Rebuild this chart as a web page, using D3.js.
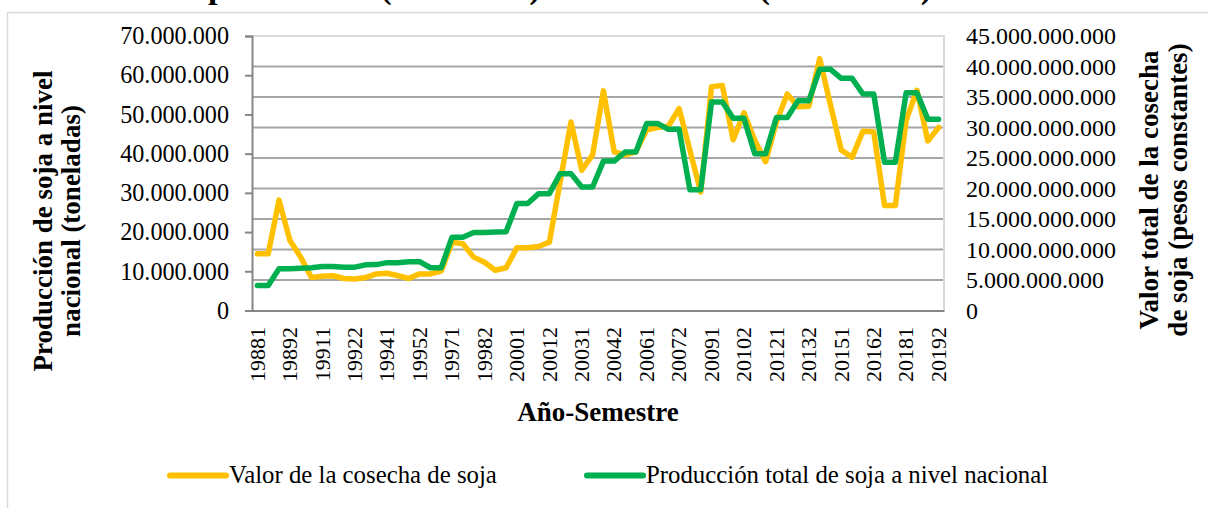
<!DOCTYPE html>
<html>
<head>
<meta charset="utf-8">
<script src="https://cdn.jsdelivr.net/npm/d3@7"></script>
<style>
  body { margin: 0; background: #fff; }
  svg { display: block; font-family: "Liberation Serif", "Times New Roman", serif; }
</style>
</head>
<body>
<div id="chart"></div>
<script>
// categorias año + semestre
const categorias = [
  "19881","19882","19891","19892","19901","19902","19911","19912",
  "19921","19922","19931","19932","19941","19942","19951","19952",
  "19961","19962","19971","19972","19981","19982","19991","19992",
  "20001","20002","20011","20012","20021","20022","20031","20032",
  "20041","20042","20051","20052","20061","20062","20071","20072",
  "20081","20082","20091","20092","20101","20102","20111","20112",
  "20121","20122","20131","20132","20141","20142","20151","20152",
  "20161","20162","20171","20172","20181","20182","20191","20192"
];
const etiquetasX = [
  "19881","19892","19911","19922","19941","19952","19971","19982",
  "20001","20012","20031","20042","20061","20072","20091","20102",
  "20121","20132","20151","20162","20181","20192"
];

// producción total (millones de toneladas) - eje izquierdo
const produccion = [
  6.4, 6.4, 10.65, 10.65, 10.8, 10.9, 11.2, 11.2,
  11.05, 11.05, 11.65, 11.7, 12.2, 12.2, 12.45, 12.45,
  10.9, 10.9, 18.7, 18.7, 19.9, 19.9, 20.0, 20.1,
  27.3, 27.3, 29.8, 29.8, 34.9, 34.9, 31.5, 31.5,
  38.1, 38.1, 40.4, 40.4, 47.7, 47.7, 46.2, 46.2,
  30.8, 30.8, 53.2, 53.2, 49.0, 49.0, 40.0, 40.0,
  49.2, 49.2, 53.5, 53.5, 61.5, 61.5, 59.2, 59.2,
  55.2, 55.2, 37.8, 37.8, 55.5, 55.5, 48.8, 48.8
];
// valor de la cosecha (miles de millones de pesos constantes) - eje derecho
const valor = [
  9.3, 9.3, 18.1, 11.5, 8.75, 5.4, 5.6, 5.7,
  5.25, 5.15, 5.4, 6.0, 6.1, 5.7, 5.25, 6.0,
  6.0, 6.45, 11.2, 10.95, 8.75, 7.9, 6.6, 7.0,
  10.3, 10.3, 10.5, 11.2, 21.1, 30.9, 23.0, 25.5,
  36.0, 26.0, 25.5, 26.0, 29.6, 30.0, 30.2, 33.1,
  26.3, 19.4, 36.7, 36.9, 28.0, 32.4, 27.9, 24.4,
  30.9, 35.5, 33.4, 33.5, 41.3, 33.7, 26.3, 25.1,
  29.4, 29.3, 17.2, 17.2, 31.2, 36.1, 27.8, 30.0
];

const ticksIzq = [0, 10, 20, 30, 40, 50, 60, 70];
const ticksDer = [0, 5, 10, 15, 20, 25, 30, 35, 40, 45];

const width = 1208;
const height = 508;
const margin = { top: 36, left: 252, right: 264, bottom: 197.5 };
const x0 = margin.left;
const x1 = width - margin.right;
const yTop = margin.top;
const yBot = height - margin.bottom;

const es = d3.formatLocale({ decimal: ",", thousands: ".", grouping: [3], currency: ["$", ""] });
const fmt = es.format(",d");

const svg = d3.select("#chart").append("svg")
  .attr("width", width)
  .attr("height", height);

// borde del área del gráfico
svg.append("rect")
  .attr("x", 7.5).attr("y", 12.5)
  .attr("width", 1230).attr("height", 530)
  .attr("fill", "none")
  .attr("stroke", "#d9d9d9")
  .attr("stroke-width", 1.5);

// titulo (queda cortado arriba, como en el original)
svg.append("text")
  .attr("x", 73).attr("y", -2)
  .attr("font-size", 34)
  .attr("font-weight", "bold")
  .text("Relación producción (toneladas) vs. Valor total (constantes)");

const x = d3.scaleBand().domain(categorias).range([x0, x1]);
const yIzq = d3.scaleLinear().domain([0, 70]).range([yBot, yTop]);
const yDer = d3.scaleLinear().domain([0, 45]).range([yBot, yTop]);
const cx = c => x(c) + x.bandwidth() / 2;

// lineas de cuadricula (eje derecho)
svg.append("g").selectAll("line")
  .data(ticksDer.slice(1, -1))
  .join("line")
  .attr("x1", x0).attr("x2", x1)
  .attr("y1", d => yDer(d)).attr("y2", d => yDer(d))
  .attr("stroke", "#a6a6a6")
  .attr("stroke-width", 2);

svg.append("path")
  .attr("d", `M${x0},${yTop}H${x1}V${yBot}`)
  .attr("fill", "none")
  .attr("stroke", "#d9d9d9")
  .attr("stroke-width", 2);

// eje izquierdo
const gIzq = svg.append("g")
  .attr("transform", `translate(${x0},0)`)
  .call(d3.axisLeft(yIzq).tickValues(ticksIzq).tickSize(7).tickPadding(16)
    .tickFormat(d => fmt(d * 1e6)));
gIzq.attr("font-family", null).attr("font-size", 24.2);
gIzq.select(".domain").attr("stroke", "#868686").attr("stroke-width", 2);
gIzq.selectAll(".tick line").attr("stroke", "#868686").attr("stroke-width", 2);
gIzq.selectAll(".tick text").attr("fill", "#000");

// eje derecho
const gDer = svg.append("g")
  .attr("transform", `translate(${x1},0)`)
  .call(d3.axisRight(yDer).tickValues(ticksDer).tickSize(0).tickPadding(22)
    .tickFormat(d => fmt(d * 1e9)));
gDer.attr("font-family", null).attr("font-size", 24);
gDer.select(".domain").remove();
gDer.selectAll(".tick text").attr("fill", "#000");

// eje x
const gX = svg.append("g")
  .attr("transform", `translate(0,${yBot})`)
  .call(d3.axisBottom(x).tickValues(etiquetasX).tickSize(0).tickSizeOuter(0));
gX.attr("font-family", null).attr("font-size", 22);
gX.select(".domain").attr("stroke", "#868686").attr("stroke-width", 2);
gX.selectAll(".tick text")
  .attr("fill", "#000")
  .attr("transform", "rotate(-90)")
  .attr("text-anchor", "end")
  .attr("x", -16.5)
  .attr("y", 0)
  .attr("dy", "0.33em");

// series
const linea = scale => d3.line()
  .x((d, i) => cx(categorias[i]))
  .y(d => scale(d));

svg.append("path")
  .datum(valor)
  .attr("d", linea(yDer))
  .attr("fill", "none")
  .attr("stroke", "#ffc000")
  .attr("stroke-width", 5.5)
  .attr("stroke-linejoin", "round")
  .attr("stroke-linecap", "round");

svg.append("path")
  .datum(produccion)
  .attr("d", linea(yIzq))
  .attr("fill", "none")
  .attr("stroke", "#00b050")
  .attr("stroke-width", 5.5)
  .attr("stroke-linejoin", "round")
  .attr("stroke-linecap", "round");

// titulos de ejes
svg.append("text")
  .attr("x", (x0 + x1) / 2).attr("y", 420.5)
  .attr("text-anchor", "middle")
  .attr("font-size", 27).attr("font-weight", "bold")
  .text("Año-Semestre");

const tIzq = svg.append("text")
  .attr("transform", "translate(51.5,221) rotate(-90)")
  .attr("text-anchor", "middle")
  .attr("font-size", 27).attr("font-weight", "bold");
tIzq.append("tspan").attr("x", 0).attr("y", 0).text("Producción de soja a nivel");
tIzq.append("tspan").attr("x", 0).attr("y", 28.4).text("nacional (toneladas)");

const tDer = svg.append("text")
  .attr("transform", "translate(1158,190) rotate(-90)")
  .attr("text-anchor", "middle")
  .attr("font-size", 27).attr("font-weight", "bold");
tDer.append("tspan").attr("x", 0).attr("y", 0).text("Valor total de la cosecha");
tDer.append("tspan").attr("x", 0).attr("y", 28.5).text("de soja (pesos constantes)");

// leyenda
const leyenda = [
  { nombre: "Valor de la cosecha de soja", color: "#ffc000", x: 170 },
  { nombre: "Producción total de soja a nivel nacional", color: "#00b050", x: 587 }
];
const gLey = svg.append("g").selectAll("g")
  .data(leyenda)
  .join("g")
  .attr("transform", d => `translate(${d.x},475.5)`);
gLey.append("line")
  .attr("x1", 0).attr("x2", 56)
  .attr("stroke", d => d.color)
  .attr("stroke-width", 6)
  .attr("stroke-linecap", "round");
gLey.append("text")
  .attr("x", 59).attr("y", 7)
  .attr("font-size", 24.8)
  .text(d => d.nombre);
</script>
</body>
</html>
